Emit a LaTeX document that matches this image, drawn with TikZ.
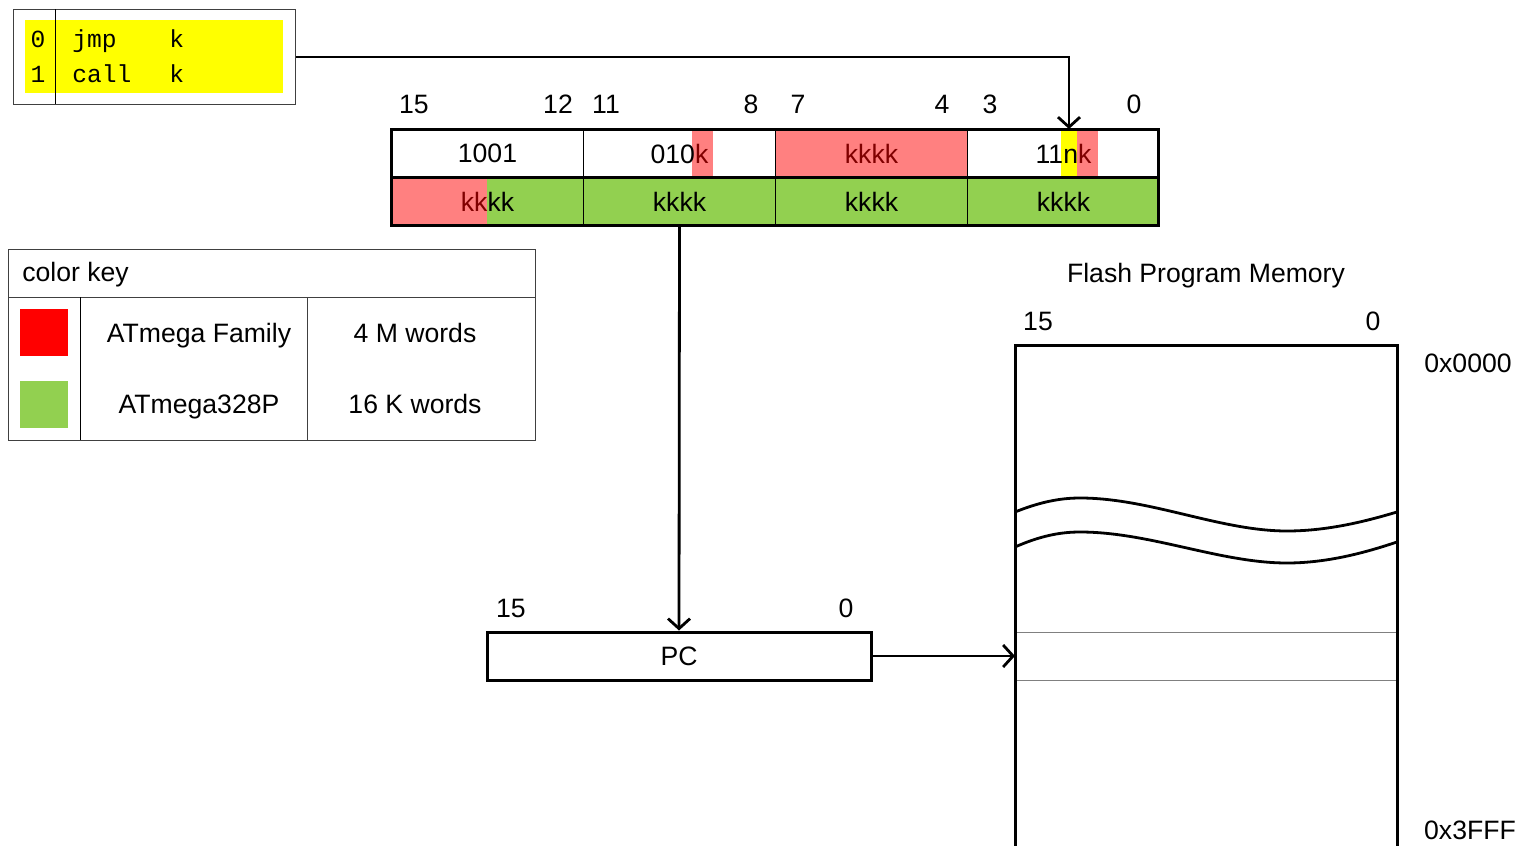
\documentclass[tikz,border=0pt]{standalone}
\usepackage{fontspec}
\setmainfont{Liberation Sans}
\newfontfamily\monof{Liberation Mono}
\usetikzlibrary{arrows.meta}
\definecolor{salmon}{HTML}{FF8080}
\definecolor{kgreen}{HTML}{92D050}
\definecolor{kred}{HTML}{FF0000}
\definecolor{dred}{HTML}{800000}
\definecolor{kyel}{HTML}{FFFF00}
\definecolor{lgray}{HTML}{808080}
\begin{document}
\begin{tikzpicture}[x=0.5pt,y=-0.5pt,
 txt/.style={inner sep=0,anchor=base,font=\fontsize{13.3}{15}\selectfont},
 mono/.style={inner sep=0,anchor=base west,font=\monof\fontsize{12.3}{14}\selectfont},
 thinl/.style={line width=0.5pt},
 thickb/.style={line width=1.5pt},
 wave/.style={line width=1.4pt},
 conn/.style={line width=1.4pt,-{Straight Barb[length=5pt,width=11pt,line width=1.4pt]}},
 cell/.style={draw,line width=0.5pt,minimum width=96pt,minimum height=24pt,inner sep=0,anchor=north west,font=\fontsize{13.3}{15}\selectfont}
]
\useasboundingbox[fill=white] (0,0) rectangle (1522,846);

% ---- opcode box
\fill[kyel] (25,20) rectangle (283,93);
\node[draw=darkgray,thinl,minimum width=141pt,minimum height=47.5pt,inner sep=0,anchor=north west] (ops) at (13,9) {};
\draw[thinl] (55,9) -- (55,104);
\node[mono,anchor=base] (o0) at (38,47) {0};
\node[mono,anchor=base] (o1) at (38,83) {1};
\node[mono] (jmp) at (72,47) {jmp};
\node[mono] (jk) at (169,47) {k};
\node[mono] (call) at (72,83) {call};
\node[mono] (ck) at (169,83) {k};

% ---- instruction word fills
\fill[salmon] (692,129) rectangle (713,177);
\fill[salmon] (775,129) rectangle (967,177);
\fill[kyel] (1061,129) rectangle (1077,177);
\fill[salmon] (1077,129) rectangle (1098,177);
\fill[kgreen] (391,177) rectangle (1158,225);
\fill[salmon] (391,177) rectangle (487,225);

% ---- cells
\node[cell] (a1) at (391,129) {1001};
\node[cell] (a2) at (583,129) {010\textcolor{dred}{k}};
\node[cell] (a3) at (775,129) {\textcolor{dred}{kkkk}};
\node[cell] (a4) at (967,129) {11n\textcolor{dred}{k}};
\node[cell] (b1) at (391,177) {\textcolor{dred}{kk}kk};
\node[cell] (b2) at (583,177) {kkkk};
\node[cell] (b3) at (775,177) {kkkk};
\node[cell] (b4) at (967,177) {kkkk};
\draw[thickb] (391,129) rectangle (1158,225);
\draw[thickb] (391,177) -- (1158,177);

% ---- bit numbers
\node[txt] (n15) at (414,113) {15};
\node[txt] (n12) at (558,113) {12};
\node[txt] (n11) at (606,113) {11};
\node[txt] (n8) at (751,113) {8};
\node[txt] (n7) at (798,113) {7};
\node[txt] (n4) at (942,113) {4};
\node[txt] (n3) at (990,113) {3};
\node[txt] (n0) at (1134,113) {0};

% ---- color key
\node[draw=darkgray,thinl,minimum width=263.5pt,minimum height=95.5pt,inner sep=0,anchor=north west] (key) at (8,249) {};
\draw[thinl,draw=darkgray] (8,297) -- (535,297);
\draw[thinl] (80,297) -- (80,440);
\draw[thinl,draw=darkgray] (307,297) -- (307,440);
\node[txt,anchor=base west] (ckey) at (22,281) {color key};
\fill[kred] (20,309) rectangle (68,356);
\fill[kgreen] (20,381) rectangle (68,428);
\node[txt] (fam) at (199,342) {ATmega Family};
\node[txt] (p328) at (199,413) {ATmega328P};
\node[txt] (m4) at (415,342) {4 M words};
\node[txt] (k16) at (415,413) {16 K words};

% ---- PC
\node[draw,thickb,minimum width=192pt,minimum height=24pt,inner sep=0,font=\fontsize{13.3}{15}\selectfont] (pc) at (679,656) {PC};
\node[txt] (p15) at (511,617) {15};
\node[txt] (p0) at (846,617) {0};

% ---- flash memory
\node[txt] (ftitle) at (1206,282) {Flash Program Memory};
\node[txt] (f15) at (1038,330) {15};
\node[txt] (f0) at (1373,330) {0};
\node[txt] (a0000) at (1468,372) {0x0000};
\node[txt] (a3fff) at (1470,839) {0x3FFF};
\draw[thinl,draw=lgray] (1015,632) -- (1397,632);
\draw[thinl,draw=lgray] (1015,680) -- (1397,680);
\draw[thickb] (1015,846) -- (1015,345) -- (1397,345) -- (1397,846);
\draw[wave] (1015,512) .. controls (1040,502) and (1060,498) .. (1080,498)
  .. controls (1150,498) and (1220,531) .. (1287,531)
  .. controls (1330,531) and (1370,520) .. (1397,512);
\draw[wave] (1015,547) .. controls (1040,536) and (1060,532) .. (1080,532)
  .. controls (1150,532) and (1220,563) .. (1287,563)
  .. controls (1330,563) and (1370,551) .. (1397,542);
\coordinate (flashin) at (1015,656);
\coordinate (ntop) at (1069,129);

% ---- connectors
\draw[conn] (ops.east) -| (ntop);
\draw[conn] (b2.south) -- (pc.north);
\draw[conn] (pc.east) -- (flashin);
\end{tikzpicture}
\end{document}
